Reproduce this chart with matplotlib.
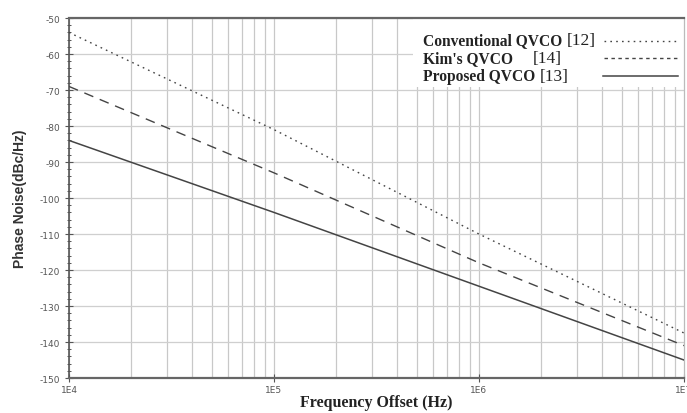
import numpy as np
import matplotlib
matplotlib.use("Agg")
import matplotlib.pyplot as plt
from matplotlib.ticker import MultipleLocator, FixedLocator

plt.rcParams["axes.unicode_minus"] = False

freq = [1e4, 1e5, 1e6, 1e7]
conventional = [-54, -81, -110, -137.5]
kims = [-69, -93, -118, -141]
proposed = [-84, -104, -124.5, -145]
xticks = [1e4, 1e5, 1e6, 1e7]
xticklabels = ["1E4", "1E5", "1E6", "1E7"]
yticks = list(range(-150, -49, 10))

fig = plt.figure(figsize=(6.87, 4.14), dpi=100)
ax = fig.add_axes([0.1004, 0.0845, 0.8952, 0.8695])
ax.set_xscale("log")
ax.set_xlim(1e4, 1e7)
ax.set_ylim(-150, -50)

# grid
for d in [1e4, 1e5, 1e6]:
    for m in range(2, 10):
        ax.axvline(d * m, color="#c8c8c8", lw=0.9, zorder=0)
    ax.axvline(d, color="#c8c8c8", lw=0.9, zorder=0)
for y in yticks:
    ax.axhline(y, color="#cfcfcf", lw=0.9, zorder=0)

lc = "#444444"
ax.plot(freq, conventional, color=lc, lw=1.0, linestyle=(0, (1.2, 3.0)), zorder=3)
ax.plot(freq, kims, color=lc, lw=1.0, linestyle=(0, (7, 5)), zorder=3)
ax.plot(freq, proposed, color=lc, lw=1.1, zorder=3)

# legend area (white box, no frame)
ax.add_patch(plt.Rectangle((0.559, 0.808), 0.441, 0.19, transform=ax.transAxes,
                           facecolor="white", edgecolor="none", zorder=2))
serif = "Liberation Serif"
leg = [("Conventional QVCO ", "[12]", 0.94),
       ("Kim's QVCO     ", "[14]", 0.89),
       ("Proposed QVCO ", "[13]", 0.84)]
for bold, ref, yy in leg:
    t = ax.text(0.576, yy, bold, transform=ax.transAxes, fontfamily=serif,
                fontweight="bold", fontsize=11.2, color="#222222", va="center", zorder=4)
    fig.canvas.draw()
    bb = t.get_window_extent().transformed(ax.transAxes.inverted())
    ax.text(bb.x1, yy, ref, transform=ax.transAxes, fontfamily=serif,
            fontsize=12.5, color="#222222", va="center", zorder=4)
ax.plot([0.870, 0.99], [0.935, 0.935], transform=ax.transAxes, color=lc,
        lw=1.0, linestyle=(0, (1.2, 3.0)), zorder=4)
ax.plot([0.870, 0.99], [0.888, 0.888], transform=ax.transAxes, color=lc,
        lw=1.0, linestyle=(0, (2.5, 2.5)), zorder=4)
ax.plot([0.868, 0.99], [0.838, 0.838], transform=ax.transAxes, color=lc,
        lw=1.1, zorder=4)

# axes styling
for s in ["top", "bottom"]:
    ax.spines[s].set_color("#666666")
    ax.spines[s].set_linewidth(1.6)
ax.spines["left"].set_color("#555555")
ax.spines["left"].set_linewidth(1.2)
ax.spines["right"].set_color("#bbbbbb")
ax.spines["right"].set_linewidth(0.9)

ax.xaxis.set_major_locator(FixedLocator(xticks))
ax.set_xticklabels(xticklabels)
ax.xaxis.set_minor_locator(FixedLocator([]))
ax.set_yticks(yticks)
ax.yaxis.set_minor_locator(MultipleLocator(2))
ax.tick_params(axis="both", which="major", labelsize=6.5, labelcolor="#555555",
               color="#555555", length=4, width=0.8)
ax.tick_params(axis="y", which="major", direction="inout", length=6)
ax.tick_params(axis="y", which="minor", direction="inout", length=3.5,
               width=0.7, color="#555555")
ax.tick_params(axis="x", which="major", direction="inout", length=6, pad=2)

ax.set_xlabel("Frequency Offset (Hz)", fontfamily=serif, fontweight="bold",
              fontsize=11.5, color="#222222", labelpad=0)
ax.set_ylabel("Phase Noise(dBc/Hz)", fontfamily="Liberation Sans", fontweight="bold",
              fontsize=10, color="#333333", labelpad=9)

fig.savefig("out.png", dpi=100)
